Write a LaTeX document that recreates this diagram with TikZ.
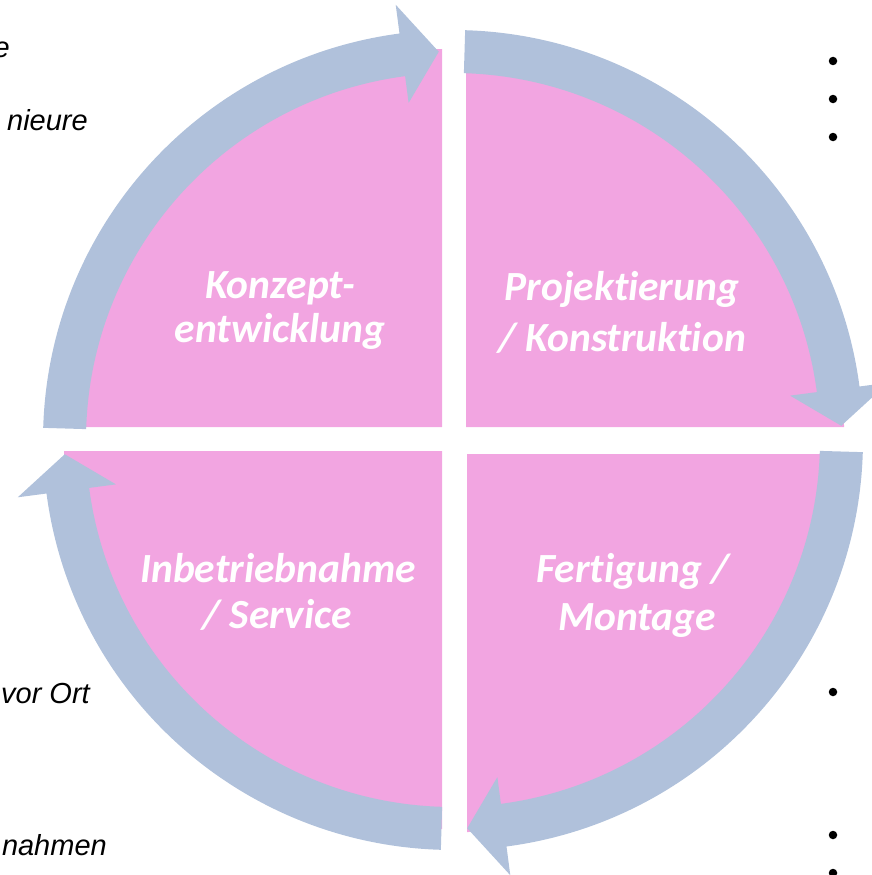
\documentclass[tikz,border=0pt]{standalone}
\usepackage{fontspec}
\newfontfamily\labelfont[Ligatures=NoCommon]{Carlito}
\newfontfamily\sidefont{Liberation Sans}
\definecolor{pinkc}{RGB}{242,165,225}
\definecolor{ringblue}{RGB}{176,193,219}
\tikzset{
  lbl/.style={text=white,font=\labelfont\bfseries\itshape\fontsize{41.5}{48}\selectfont,inner sep=0pt,anchor=base},
  side/.style={text=black,font=\sidefont\itshape\fontsize{29}{35}\selectfont,inner sep=0pt,anchor=base east},
  bul/.style={circle,fill=black,inner sep=0pt,minimum size=8.5pt},
}
\newcommand\ringarrow[3]{%
  \fill[ringblue] (#1:410) arc[start angle=#1,end angle=#2,radius=410]
    -- (#2:439) -- (#3:388.5) -- (#2:340) -- (#2:367)
    arc[start angle=#2,end angle=#1,radius=367] -- cycle;}
\begin{document}
\begin{tikzpicture}[x=1pt,y=-1pt]
\useasboundingbox (0,0) rectangle (872,875);
\clip (0,0) rectangle (872,875);
% pink quarter sectors
\fill[pinkc] (442,427) -- ++(180:378) arc[start angle=180,end angle=270,radius=378] -- cycle;
\fill[pinkc] (466,427) -- ++(270:378) arc[start angle=270,end angle=360,radius=378] -- cycle;
\fill[pinkc] (467,454) -- ++(0:378) arc[start angle=0,end angle=90,radius=378] -- cycle;
\fill[pinkc] (442,451) -- ++(90:378) arc[start angle=90,end angle=180,radius=378] -- cycle;
% ring arrows
\begin{scope}[shift={(453,440)},yscale=-1]
  \ringarrow{178.3}{97.5}{92.1}
  \ringarrow{88.3}{7.5}{2.1}
  \ringarrow{-1.7}{-82.5}{-87.9}
  \ringarrow{268.3}{187.5}{182.1}
\end{scope}
% labels
\node[lbl] (k1) at (280,298) {Konzept-};
\node[lbl] (k2) at (280,342) {entwicklung};
\node[lbl] (p1) at (622,300) {Projektierung};
\node[lbl] (p2) at (622,351) {/ Konstruktion};
\node[lbl] (i1) at (278,582) {Inbetriebnahme};
\node[lbl] (i2) at (277,628) {/ Service};
\node[lbl] (f1) at (633,582) {Fertigung /};
\node[lbl] (f2) at (637,630) {Montage};
% side text fragments
\node[side] (s1) at (10,57) {e};
\node[side] (s2) at (88,130) {nieure};
\node[side] (s3) at (90,703) {vor Ort};
\node[side] (s4) at (107,855) {nahmen};
% bullets
\foreach \y [count=\i] in {61,99,137,692,835,873} \node[bul] (b\i) at (833,\y) {};
\end{tikzpicture}
\end{document}
